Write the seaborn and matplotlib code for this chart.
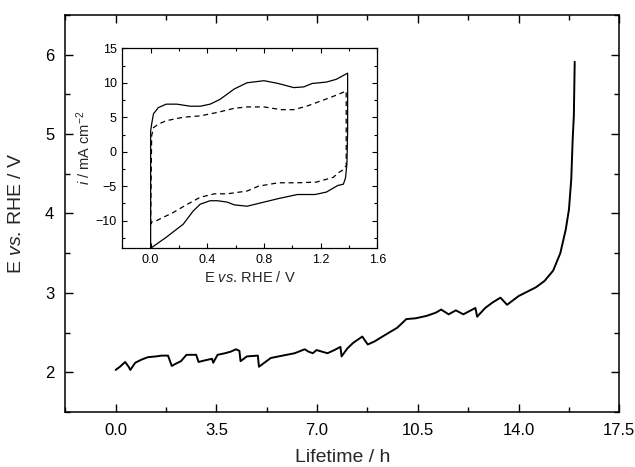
import matplotlib
matplotlib.use("Agg")
import matplotlib.pyplot as plt
from matplotlib.ticker import MultipleLocator, FormatStrFormatter
import seaborn as sns

# ---- main curve: lifetime test ----
lifetime_h = [0.0, 0.15, 0.33, 0.45, 0.51, 0.68, 0.9, 1.12, 1.4, 1.6, 1.82, 1.95, 2.1, 2.27, 2.46,
              2.8, 2.88, 3.1, 3.35, 3.39, 3.54, 3.8, 4.0, 4.18, 4.3, 4.34, 4.56, 4.94, 4.98, 5.39,
              5.8, 6.22, 6.57, 6.7, 6.85, 6.98, 7.36, 7.6, 7.81, 7.85, 8.05, 8.25, 8.57, 8.76, 9.0,
              9.27, 9.5, 9.78, 10.1, 10.42, 10.8, 11.12, 11.31, 11.57, 11.82, 12.08, 12.5, 12.56,
              12.84, 13.1, 13.37, 13.6, 14.0, 14.6, 14.9, 15.2, 15.45, 15.64, 15.75, 15.83, 15.88,
              15.92, 15.95]
potential_V = [2.03, 2.07, 2.13, 2.07, 2.03, 2.12, 2.16, 2.19, 2.20, 2.21, 2.21, 2.08, 2.11, 2.14, 2.22,
               2.22, 2.13, 2.15, 2.17, 2.12, 2.22, 2.24, 2.26, 2.29, 2.27, 2.14, 2.20, 2.21, 2.07, 2.18,
               2.21, 2.24, 2.29, 2.26, 2.24, 2.28, 2.24, 2.28, 2.32, 2.20, 2.30, 2.37, 2.45, 2.35, 2.39,
               2.45, 2.50, 2.56, 2.67, 2.68, 2.71, 2.75, 2.79, 2.73, 2.78, 2.73, 2.81, 2.70,
               2.81, 2.88, 2.94, 2.85, 2.96, 3.07, 3.15, 3.28, 3.50, 3.80, 4.05, 4.43, 4.94,
               5.23, 5.91]

# ---- inset: cyclic voltammograms ----
cv_solid_E = [0.0, 0.0, 0.007, 0.02, 0.054, 0.11, 0.185, 0.28, 0.35, 0.42, 0.49, 0.59, 0.68, 0.8, 0.9,
              1.01, 1.08, 1.14, 1.24, 1.31, 1.39, 1.39, 1.385, 1.375, 1.36, 1.32, 1.24, 1.16, 1.035,
              0.9, 0.76, 0.68, 0.59, 0.54, 0.47, 0.42, 0.35, 0.30, 0.23, 0.11, 0.0]
cv_solid_i = [-14.0, 3.0, 4.0, 5.5, 6.4, 6.9, 6.9, 6.6, 6.6, 6.9, 7.6, 9.1, 10.0, 10.3, 9.9,
              9.3, 9.4, 9.9, 10.1, 10.5, 11.4, 3.0, -1.8, -3.8, -4.7, -4.9, -5.85, -6.2, -6.2,
              -6.8, -7.5, -7.9, -7.7, -7.3, -7.1, -7.1, -7.6, -8.6, -10.5, -12.4, -14.0]
cv_dash_E = [0.0, 0.007, 0.02, 0.054, 0.11, 0.23, 0.35, 0.47, 0.59, 0.68, 0.8, 0.92, 1.01, 1.1, 1.22,
             1.31, 1.38, 1.38, 1.36, 1.32, 1.29, 1.17, 1.035, 0.9, 0.76, 0.68, 0.54, 0.45, 0.35,
             0.26, 0.16, 0.04, 0.007, 0.0]
cv_dash_i = [-10.5, 2.3, 3.5, 4.0, 4.5, 5.0, 5.2, 5.7, 6.3, 6.5, 6.5, 6.1, 6.1, 6.6, 7.5,
             8.2, 8.8, -2.0, -2.6, -3.1, -3.7, -4.4, -4.5, -4.5, -5.0, -5.7, -6.1, -6.1, -6.6,
             -7.6, -8.8, -10.0, -10.2, -10.5]

sns.set_style("ticks")
plt.rcParams['font.family'] = ['Liberation Sans', 'DejaVu Sans']
plt.rcParams['mathtext.fontset'] = 'custom'
plt.rcParams['mathtext.rm'] = 'Liberation Sans'
plt.rcParams['mathtext.it'] = 'Liberation Sans:italic'

fig = plt.figure(figsize=(6.35, 4.67), dpi=100)
ax = fig.add_axes([0.1028, 0.1178, 0.8725, 0.8501])

sns.lineplot(x=lifetime_h, y=potential_V, sort=False, estimator=None, color='black',
             linewidth=1.4, ax=ax)
ax.set_xlim(-1.75, 17.5)
ax.set_ylim(1.5, 6.5)
ax.xaxis.set_major_locator(MultipleLocator(3.5))
ax.xaxis.set_minor_locator(MultipleLocator(1.75))
ax.xaxis.set_major_formatter(FormatStrFormatter('%.1f'))
ax.yaxis.set_major_locator(MultipleLocator(1))
ax.yaxis.set_minor_locator(MultipleLocator(0.5))
ax.tick_params(which='both', direction='in', top=True, right=True, width=1.0, colors='black',
               labelsize=12)
ax.tick_params(which='major', length=6, pad=8)
ax.tick_params(which='minor', length=3.5)
for s in ax.spines.values():
    s.set_linewidth(1.1)
    s.set_color('black')
    s.set_visible(True)
ax.set_xlabel('Lifetime / h', fontsize=14, labelpad=8)
ax.set_ylabel(r'$\mathrm{E}\ \mathit{vs.}\,\mathrm{RHE\ /\ V}$', fontsize=14, labelpad=14)

ins = fig.add_axes([0.1926, 0.4683, 0.4017, 0.4283])
sns.lineplot(x=cv_solid_E, y=cv_solid_i, sort=False, estimator=None, color='black',
             linewidth=0.9, ax=ins)
sns.lineplot(x=cv_dash_E, y=cv_dash_i, sort=False, estimator=None, color='black',
             linewidth=0.9, linestyle=(0, (4, 3)), ax=ins)
ins.set_xlim(-0.2, 1.6)
ins.set_ylim(-14, 15)
ins.xaxis.set_major_locator(MultipleLocator(0.4))
ins.xaxis.set_minor_locator(MultipleLocator(0.2))
ins.xaxis.set_major_formatter(FormatStrFormatter('%.1f'))
ins.yaxis.set_major_locator(MultipleLocator(5))
ins.yaxis.set_minor_locator(MultipleLocator(2.5))
ins.tick_params(which='both', direction='in', top=True, right=True, width=0.8, colors='black',
                labelsize=9)
ins.tick_params(which='major', length=3.5, pad=4)
ins.tick_params(which='minor', length=2)
for s in ins.spines.values():
    s.set_linewidth(0.9)
    s.set_color('black')
    s.set_visible(True)
ins.set_xlabel(r'$\mathrm{E}\ \mathit{vs.}\,\mathrm{RHE\ /\ V}$', fontsize=10.5, labelpad=3)
ins.set_ylabel(r'$\mathit{i}$ / mA cm$^{-2}$', fontsize=10.5, labelpad=2)

fig.savefig('out.png', dpi=100)
